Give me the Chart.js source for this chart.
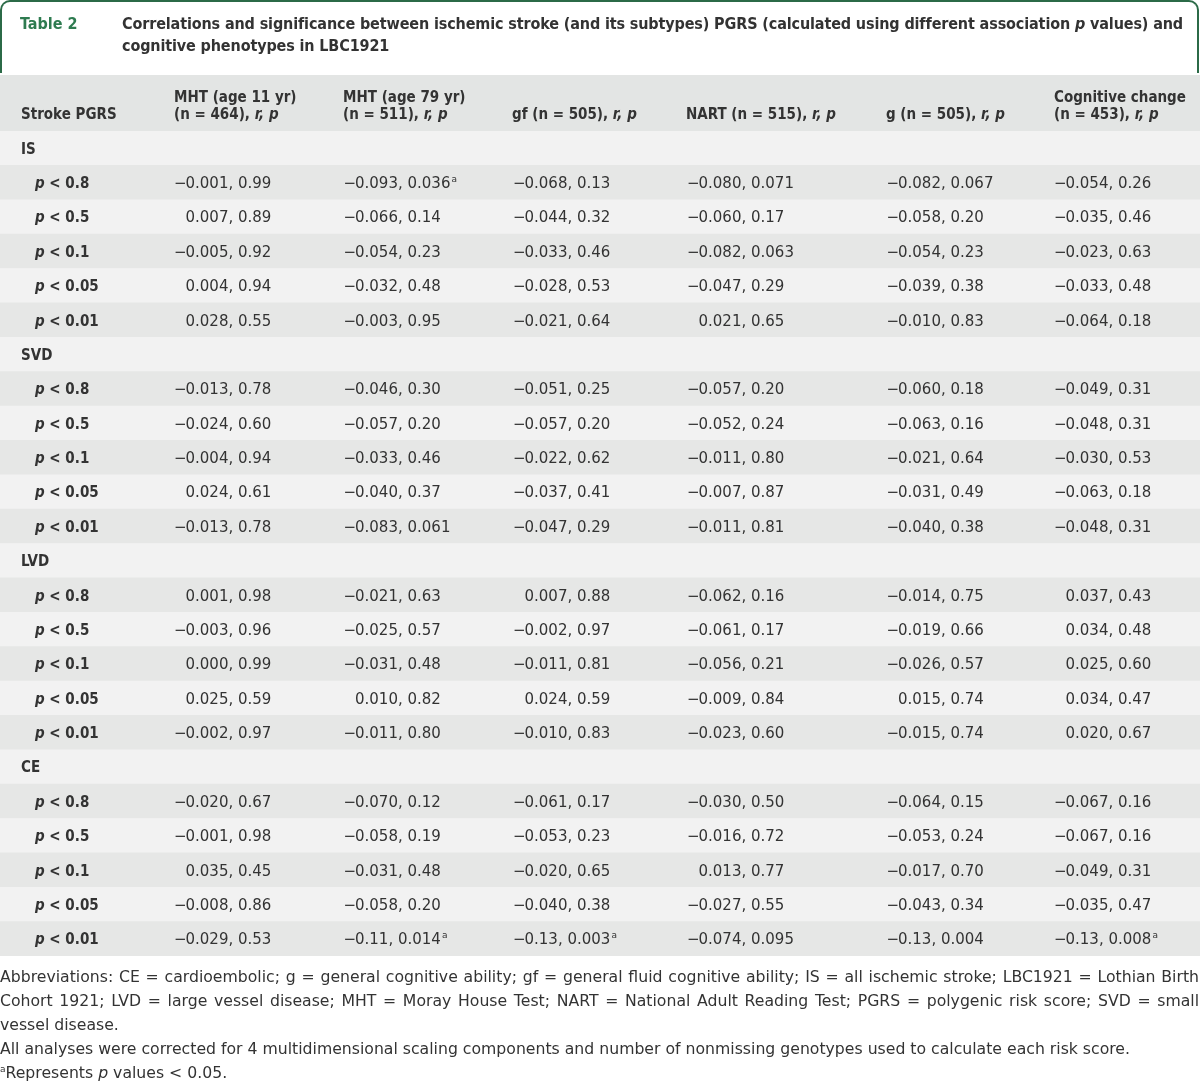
<!DOCTYPE html>
<html>
<head>
<meta charset="utf-8">
<title>Table 2</title>
<script src="https://cdn.jsdelivr.net/npm/chart.js@4.4.1/dist/chart.umd.min.js"></script>
<style>
  body { margin: 0; background: #fff; }
  #page { position: relative; width: 1200px; height: 1083px; overflow: hidden; font-family: "DejaVu Sans", sans-serif; color: #333; }
  #tableChart { position: absolute; left: 0; top: 0; }
  #titleBox { position: absolute; left: 0; top: 0; width: 1199px; height: 73px; box-sizing: border-box;
    border: 2px solid #2b6a47; border-bottom: none; border-radius: 10px 10px 0 0; }
  #titleNum, #titleText { position: absolute; top: 13px; font-family: "DejaVu Sans Condensed", "DejaVu Sans", sans-serif;
    font-weight: bold; font-size: 16px; line-height: 22px; white-space: nowrap; }
  #titleNum { left: 20px; color: #2e7b50; }
  #titleText { left: 122px; color: #333; letter-spacing: -0.13px; }
  #notes { position: absolute; left: 0; top: 965px; width: 1199px; font-size: 15.7px; line-height: 24px; color: #333; }
  #notes div { white-space: nowrap; }
  #notes .just { text-align: justify; text-align-last: justify; }
  #notes sup { font-size: 9px; vertical-align: 6px; line-height: 0; }
</style>
</head>
<body>
<div id="page">
  <canvas id="tableChart" width="1200" height="1083"></canvas>
  <div id="titleBox"></div>
  <div id="titleNum">Table 2</div>
  <div id="titleText">Correlations and significance between ischemic stroke (and its subtypes) PGRS (calculated using different association <i>p</i> values) and<br>cognitive phenotypes in LBC1921</div>
  <div id="notes">
    <div class="just">Abbreviations: CE = cardioembolic; g = general cognitive ability; gf = general fluid cognitive ability; IS = all ischemic stroke; LBC1921 = Lothian Birth</div>
    <div class="just">Cohort 1921; LVD = large vessel disease; MHT = Moray House Test; NART = National Adult Reading Test; PGRS = polygenic risk score; SVD = small</div>
    <div>vessel disease.</div>
    <div>All analyses were corrected for 4 multidimensional scaling components and number of nonmissing genotypes used to calculate each risk score.</div>
    <div><sup>a</sup>Represents <i>p</i> values &lt; 0.05.</div>
  </div>
</div>
<script>
  // Table data
  const groups = ['IS', 'SVD', 'LVD', 'CE'];
  const thresholds = ['0.8', '0.5', '0.1', '0.05', '0.01'];
  const firstHeader = 'Stroke PGRS';
  // last line of every header gets an italic "r, p"
  const columnHeaders = [
    ['MHT (age 11 yr)', '(n = 464), '],
    ['MHT (age 79 yr)', '(n = 511), '],
    ['gf (n = 505), '],
    ['NART (n = 515), '],
    ['g (n = 505), '],
    ['Cognitive change', '(n = 453), ']
  ];

  // "r, p" per column, one row per threshold; '*' = footnote a (p < 0.05)
  const valuesIS = [
    ['−0.001, 0.99', '−0.093, 0.036*', '−0.068, 0.13', '−0.080, 0.071', '−0.082, 0.067', '−0.054, 0.26'],
    ['0.007, 0.89', '−0.066, 0.14', '−0.044, 0.32', '−0.060, 0.17', '−0.058, 0.20', '−0.035, 0.46'],
    ['−0.005, 0.92', '−0.054, 0.23', '−0.033, 0.46', '−0.082, 0.063', '−0.054, 0.23', '−0.023, 0.63'],
    ['0.004, 0.94', '−0.032, 0.48', '−0.028, 0.53', '−0.047, 0.29', '−0.039, 0.38', '−0.033, 0.48'],
    ['0.028, 0.55', '−0.003, 0.95', '−0.021, 0.64', '0.021, 0.65', '−0.010, 0.83', '−0.064, 0.18']
  ];
  const valuesSVD = [
    ['−0.013, 0.78', '−0.046, 0.30', '−0.051, 0.25', '−0.057, 0.20', '−0.060, 0.18', '−0.049, 0.31'],
    ['−0.024, 0.60', '−0.057, 0.20', '−0.057, 0.20', '−0.052, 0.24', '−0.063, 0.16', '−0.048, 0.31'],
    ['−0.004, 0.94', '−0.033, 0.46', '−0.022, 0.62', '−0.011, 0.80', '−0.021, 0.64', '−0.030, 0.53'],
    ['0.024, 0.61', '−0.040, 0.37', '−0.037, 0.41', '−0.007, 0.87', '−0.031, 0.49', '−0.063, 0.18'],
    ['−0.013, 0.78', '−0.083, 0.061', '−0.047, 0.29', '−0.011, 0.81', '−0.040, 0.38', '−0.048, 0.31']
  ];
  const valuesLVD = [
    ['0.001, 0.98', '−0.021, 0.63', '0.007, 0.88', '−0.062, 0.16', '−0.014, 0.75', '0.037, 0.43'],
    ['−0.003, 0.96', '−0.025, 0.57', '−0.002, 0.97', '−0.061, 0.17', '−0.019, 0.66', '0.034, 0.48'],
    ['0.000, 0.99', '−0.031, 0.48', '−0.011, 0.81', '−0.056, 0.21', '−0.026, 0.57', '0.025, 0.60'],
    ['0.025, 0.59', '0.010, 0.82', '0.024, 0.59', '−0.009, 0.84', '0.015, 0.74', '0.034, 0.47'],
    ['−0.002, 0.97', '−0.011, 0.80', '−0.010, 0.83', '−0.023, 0.60', '−0.015, 0.74', '0.020, 0.67']
  ];
  const valuesCE = [
    ['−0.020, 0.67', '−0.070, 0.12', '−0.061, 0.17', '−0.030, 0.50', '−0.064, 0.15', '−0.067, 0.16'],
    ['−0.001, 0.98', '−0.058, 0.19', '−0.053, 0.23', '−0.016, 0.72', '−0.053, 0.24', '−0.067, 0.16'],
    ['0.035, 0.45', '−0.031, 0.48', '−0.020, 0.65', '0.013, 0.77', '−0.017, 0.70', '−0.049, 0.31'],
    ['−0.008, 0.86', '−0.058, 0.20', '−0.040, 0.38', '−0.027, 0.55', '−0.043, 0.34', '−0.035, 0.47'],
    ['−0.029, 0.53', '−0.11, 0.014*', '−0.13, 0.003*', '−0.074, 0.095', '−0.13, 0.004', '−0.13, 0.008*']
  ];
  const groupValues = [valuesIS, valuesSVD, valuesLVD, valuesCE];

  // Layout (pixels)
  const headerTop = 75;
  const tableTop = 131;
  const tableBottom = 956;
  const headerX = [174, 343, 512, 686, 886, 1054];
  const decimalX = [185.5, 355, 524.5, 698.5, 898, 1065.5];   // cells line up on the first "0."
  const stripeColors = ['#f2f2f2', '#e6e7e6'];
  const headerColor = '#e3e5e4';
  const textColor = '#333';
  const boldFont = 'bold 15px "DejaVu Sans Condensed", "DejaVu Sans", sans-serif';
  const italicBoldFont = 'italic bold 15px "DejaVu Sans Condensed", "DejaVu Sans", sans-serif';
  const cellFont = '15px "DejaVu Sans", sans-serif';
  const supFont = '9px "DejaVu Sans", sans-serif';

  // Build the table rows
  const rows = [];
  groups.forEach((g, gi) => {
    rows.push({ kind: 'group', label: g, cells: [] });
    thresholds.forEach((t, ti) => {
      rows.push({ kind: 'threshold', label: t, cells: groupValues[gi][ti] });
    });
  });

  // Draw the header band and column titles
  const headerPlugin = {
    id: 'tableHeader',
    beforeDatasetsDraw(chart) {
      const ctx = chart.ctx;
      ctx.save();
      ctx.fillStyle = headerColor;
      ctx.fillRect(0, headerTop, chart.width, chart.chartArea.top - headerTop);
      ctx.fillStyle = textColor;
      ctx.textBaseline = 'alphabetic';
      ctx.textAlign = 'left';
      const base2 = 118.5, base1 = 101.5;
      ctx.font = boldFont;
      ctx.fillText(firstHeader, 21, base2);
      columnHeaders.forEach((lines, ci) => {
        const x = headerX[ci];
        lines.forEach((line, li) => {
          const y = lines.length === 2 && li === 0 ? base1 : base2;
          ctx.font = boldFont;
          ctx.fillText(line, x, y);
          if (li === lines.length - 1) {
            const w = ctx.measureText(line).width;
            ctx.font = italicBoldFont;
            ctx.fillText('r, p', x + w, y);
          }
        });
      });
      ctx.restore();
    }
  };

  // Draw row labels and cell text at the category positions of the y scale
  const cellPlugin = {
    id: 'tableCells',
    afterDatasetsDraw(chart) {
      const ctx = chart.ctx;
      const yScale = chart.scales.y;
      ctx.save();
      ctx.fillStyle = textColor;
      ctx.textBaseline = 'alphabetic';
      rows.forEach((row, i) => {
        const y = yScale.getPixelForValue(i) + 5.5;
        ctx.textAlign = 'left';
        if (row.kind === 'group') {
          ctx.font = boldFont;
          ctx.fillText(row.label, 21, y);
          return;
        }
        ctx.font = italicBoldFont;
        ctx.fillText('p', 35, y);
        const pw = ctx.measureText('p').width;
        ctx.font = boldFont;
        ctx.fillText(' < ' + row.label, 35 + pw, y);

        row.cells.forEach((cell, ci) => {
          let text = cell;
          let mark = false;
          if (text.endsWith('*')) {
            mark = true;
            text = text.slice(0, -1);
          }
          let negative = false;
          if (text.startsWith('−')) {
            negative = true;
            text = text.slice(1);
          }
          const x = decimalX[ci];
          ctx.font = cellFont;
          if (negative) {
            ctx.textAlign = 'right';
            ctx.fillText('−', x + 1, y);
          }
          ctx.textAlign = 'left';
          ctx.fillText(text, x, y);
          if (mark) {
            const w = ctx.measureText(text).width;
            ctx.font = supFont;
            ctx.fillText('a', x + w + 1, y - 6);
          }
        });
      });
      ctx.restore();
    }
  };

  // Row stripes are full-width floating bars on a category axis
  const chart = new Chart(document.getElementById('tableChart'), {
    type: 'bar',
    data: {
      labels: rows.map(r => r.kind === 'group' ? r.label : 'p < ' + r.label),
      datasets: [{
        data: rows.map(() => [0, 1]),
        backgroundColor: rows.map((r, i) => stripeColors[i % 2]),
        borderWidth: 0,
        barPercentage: 1,
        categoryPercentage: 1
      }]
    },
    options: {
      indexAxis: 'y',
      responsive: false,
      animation: false,
      events: [],
      layout: { padding: { top: tableTop, bottom: 1083 - tableBottom, left: 0, right: 0 } },
      plugins: { legend: { display: false }, tooltip: { enabled: false } },
      scales: {
        x: { type: 'linear', min: 0, max: 1, display: false },
        y: { type: 'category', display: false }
      }
    },
    plugins: [headerPlugin, cellPlugin]
  });
</script>
</body>
</html>
